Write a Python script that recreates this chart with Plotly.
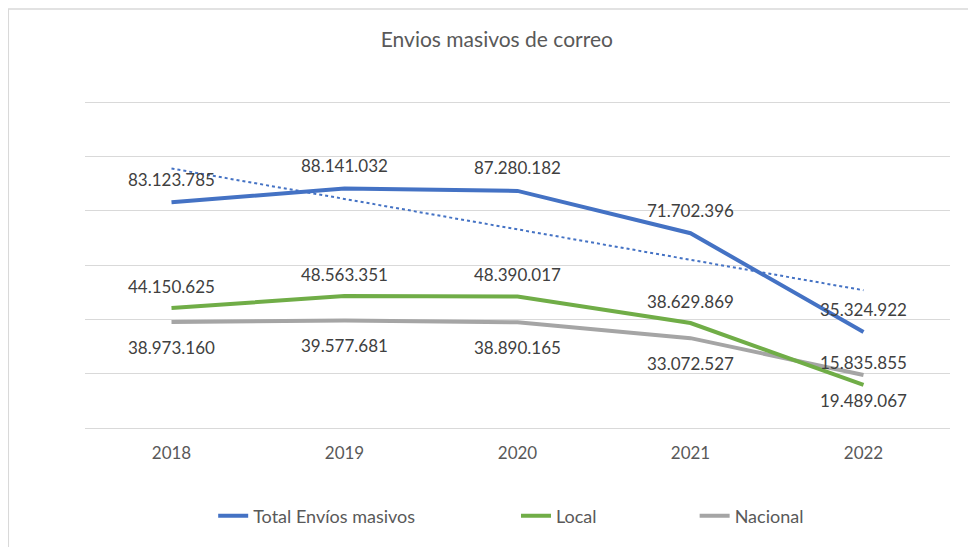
"""
Envios masivos de correo - line chart rebuilt with Plotly.
"""
import numpy as np
import plotly.graph_objs as go

years = ["2018", "2019", "2020", "2021", "2022"]
total = [83123785, 88141032, 87280182, 71702396, 35324922]
local = [44150625, 48563351, 48390017, 38629869, 15835855]
nacional = [38973160, 39577681, 38890165, 33072527, 19489067]

BLUE = "#4472C4"
GREEN = "#70AD47"
GREY = "#A5A5A5"
FONT = "Lato"


def fmt(v):
    return f"{v:,}".replace(",", ".")


# linear trendline of the total series (as Excel does)
xi = np.arange(len(years))
slope, icpt = np.polyfit(xi, total, 1)
trend = slope * xi + icpt

fig = go.Figure()
fig.add_trace(go.Scatter(x=years, y=trend, mode="lines", showlegend=False,
                         line=dict(color=BLUE, width=2, dash="dot"), hoverinfo="skip"))
fig.add_trace(go.Scatter(x=years, y=nacional, mode="lines", name="Nacional", legend="legend3",
                         line=dict(color=GREY, width=4)))
fig.add_trace(go.Scatter(x=years, y=local, mode="lines", name="Local", legend="legend2",
                         line=dict(color=GREEN, width=4)))
fig.add_trace(go.Scatter(x=years, y=total, mode="lines", name="Total Envíos masivos", legend="legend",
                         line=dict(color=BLUE, width=4)))

# data labels: Total and Local above, Nacional below (x given as category index)
for series, shift in ((total, 23), (local, 22), (nacional, -25)):
    for i, v in enumerate(series):
        fig.add_annotation(x=i, y=v, xref="x", yref="y", text=fmt(v), showarrow=False,
                           yshift=shift, font=dict(family=FONT, size=17, color="#404040"))

# plot area is 331 px tall, bottom at page y=428
ph = 331
# light frame around the chart area
fig.add_shape(type="rect", xref="paper", yref="paper", x0=-0.0887, x1=1.2, y0=-0.6,
              y1=(428 - 9) / ph, line=dict(color="#D9D9D9", width=1.5), layer="below")

leg = dict(orientation="h", yanchor="middle", y=(428 - 516) / ph, xanchor="left",
           font=dict(family=FONT, size=18, color="#595959"), bgcolor="rgba(0,0,0,0)")
fig.update_layout(
    width=968, height=539,
    margin=dict(l=77, r=26, t=89, b=119),
    paper_bgcolor="white", plot_bgcolor="white",
    font=dict(family=FONT, color="#595959"),
    title=dict(text="Envios masivos de correo", x=0.505, xref="container", xanchor="center",
               y=0.9406, yanchor="middle", font=dict(family=FONT, size=21, color="#595959")),
    legend=dict(leg, x=(212 - 85) / 857),
    legend2=dict(leg, x=(512 - 85) / 857),
    legend3=dict(leg, x=(689 - 85) / 857),
    xaxis=dict(type="category", range=[-0.5, 4.5], showgrid=False, showline=False,
               ticks="", ticklabelstandoff=13, tickfont=dict(family=FONT, size=17, color="#595959")),
    yaxis=dict(range=[0, 121.84e6], dtick=20e6, showticklabels=False, gridcolor="#D9D9D9",
               gridwidth=1, zeroline=True, zerolinecolor="#D9D9D9", zerolinewidth=1),
)

fig.write_html("out.html")
